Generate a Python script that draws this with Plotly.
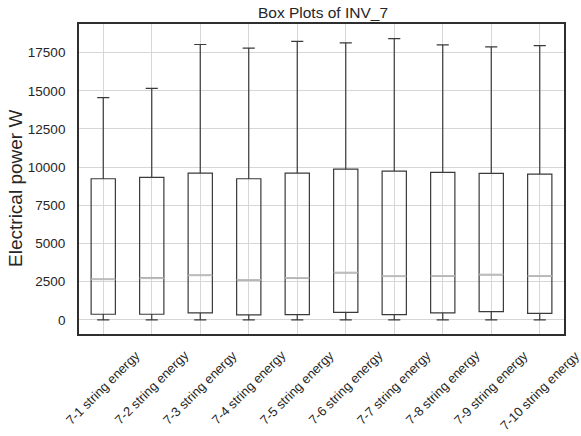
import plotly.graph_objects as go

categories = [f"7-{i} string energy" for i in range(1, 11)]
positions = list(range(1, 11))
lower_whisker = [0, 0, 0, 0, 0, 0, 0, 0, 0, 0]
q1 = [370, 370, 460, 330, 350, 500, 350, 460, 540, 430]
median = [2660, 2730, 2920, 2620, 2750, 3100, 2860, 2880, 2970, 2880]
q3 = [9240, 9330, 9610, 9240, 9610, 9870, 9740, 9660, 9590, 9550]
upper_whisker = [14550, 15160, 18030, 17790, 18240, 18130, 18420, 18000, 17870, 17960]
y_ticks = [0, 2500, 5000, 7500, 10000, 12500, 15000, 17500]

box_w = 0.5
font_family = "Liberation Sans, Arial, sans-serif"
text_color = "#262626"

fig = go.Figure()
fig.add_trace(go.Box(
    x=positions,
    q1=q1, median=median, q3=q3,
    lowerfence=lower_whisker, upperfence=upper_whisker,
    width=box_w,
    whiskerwidth=0.5,
    fillcolor="rgba(0,0,0,0)",
    line=dict(color="#3a3a3a", width=1.2),
    boxpoints=False,
    showlegend=False,
    hoverinfo="skip",
))

mx, my = [], []
for p, m in zip(positions, median):
    mx += [p - box_w / 2, p + box_w / 2, None]
    my += [m, m, None]
fig.add_trace(go.Scatter(x=mx, y=my, mode="lines",
                         line=dict(color="#bdbdbd", width=1.8),
                         showlegend=False, hoverinfo="skip"))

for p, c in zip(positions, categories):
    fig.add_annotation(x=p, xref="x", y=0, yref="paper", yshift=-11,
                       text=c, textangle=-45, showarrow=False,
                       xanchor="center", yanchor="top",
                       font=dict(family=font_family, size=13, color=text_color))

fig.add_annotation(x=-0.130, xref="paper", y=0.471, yref="paper",
                   text="Electrical power W", textangle=-90, showarrow=False,
                   xanchor="center", yanchor="middle",
                   font=dict(family=font_family, size=19, color=text_color))

fig.update_layout(
    width=581, height=436,
    margin=dict(l=79, r=17, t=24, b=102),
    paper_bgcolor="white", plot_bgcolor="white",
    title=dict(text="Box Plots of INV_7", x=323 / 581, xanchor="center",
               y=1 - 12.5 / 436, yanchor="middle", yref="container",
               font=dict(family=font_family, size=15.5, color=text_color)),
    font=dict(family=font_family, size=13, color=text_color),
    xaxis=dict(range=[0.5, 10.5], tickvals=positions, showticklabels=False,
               showgrid=True, gridcolor="#d6d6d6", gridwidth=1,
               showline=True, linecolor="#2e2e2e", linewidth=1.8, mirror=True,
               zeroline=False, ticks=""),
    yaxis=dict(range=[-922, 19372], tickvals=y_ticks,
               ticktext=[str(v) for v in y_ticks],
               showgrid=True, gridcolor="#d6d6d6", gridwidth=1,
               showline=True, linecolor="#2e2e2e", linewidth=1.8, mirror=True,
               zeroline=False, ticks="", ticklabelstandoff=9,
               tickfont=dict(family=font_family, size=13.5, color=text_color)),
)

fig.write_html("out.html",
               config={"displayModeBar": False},
               post_script="document.body.style.margin='0';document.body.style.padding='0';")
